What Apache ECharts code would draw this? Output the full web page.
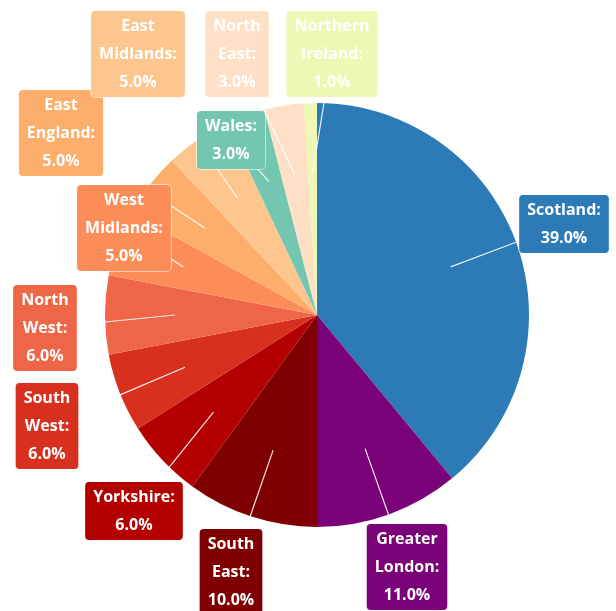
<!DOCTYPE html>
<html><head><meta charset="utf-8">
<script src="https://cdn.jsdelivr.net/npm/echarts@6/dist/echarts.min.js"></script>
<style>html,body{margin:0;padding:0;background:#fff}#c{width:616px;height:611px}</style>
</head><body><div id="c"></div>
<script>
// Data
const regions = ['Scotland','Greater London','South East','Yorkshire','South West','North West','West Midlands','East England','East Midlands','Wales','North East','Northern Ireland'];
const shares = [39, 11, 10, 6, 6, 6, 5, 5, 5, 3, 3, 1];

// Styles / layout
const sliceColors = ['#2c7bb6','#7a0177','#7f0000','#b30000','#d7301f','#ef6548','#fc8d59','#fdae6b','#fdc68f','#73c6b0','#fde0c5','#eef7b4'];
const labelCenters = [[564,224],[407,567],[231,572],[134,511],[47,426],[45,328],[124,228],[61,133],[138,54],[231,140],[237,54],[332,54]];
const CX = 317, CY = 315, R = 212;

const total = shares.reduce((a,b)=>a+b,0);
function midAngle(i){
  let cum = 0;
  for (let k = 0; k < i; k++) cum += shares[k];
  return (cum + shares[i]/2) / total * Math.PI * 2;
}

const labelOpt = {
  show: true,
  position: 'outside',
  overflow: 'none',
  formatter: p => p.name.replace(/ /g,'\n') + ':\n' + p.value.toFixed(1) + '%',
  color: '#ffffff',
  opacity: 1,
  fontFamily: '"Open Sans", sans-serif',
  fontWeight: 'bold',
  fontSize: 16,
  lineHeight: 28,
  align: 'center',
  padding: [1, 8],
  borderRadius: 4,
  borderColor: 'rgba(255,255,255,0.55)',
  borderWidth: 1
};

const chart = echarts.init(document.getElementById('c'), null, {renderer:'canvas'});
chart.setOption({
  animation: false,
  backgroundColor: '#ffffff',
  series: [{
    type: 'pie',
    z: 2,
    center: [CX, CY],
    radius: R,
    startAngle: 90,
    clockwise: true,
    silent: true,
    data: regions.map((n,i)=>({name:n, value:shares[i], itemStyle:{color:sliceColors[i]}})),
    label: {show: false},
    labelLine: {show: false}
  }, {
    type: 'pie',
    z: 3,
    center: [CX, CY],
    radius: R,
    startAngle: 90,
    clockwise: true,
    silent: true,
    avoidLabelOverlap: false,
    data: regions.map((n,i)=>({name:n, value:shares[i], itemStyle:{color:'rgba(0,0,0,0)'}, label:{backgroundColor:sliceColors[i]}})),
    label: labelOpt,
    labelLine: {
      show: true,
      length: 10,
      length2: 0,
      lineStyle: {color: 'rgba(255,255,255,0.9)', width: 1.2, opacity: 1}
    },
    labelLayout: function(params){
      const i = params.dataIndex;
      const a = midAngle(i);
      const inner = [CX + Math.sin(a)*R*0.67, CY - Math.cos(a)*R*0.67];
      const lc = labelCenters[i];
      return {
        x: lc[0], y: lc[1],
        align: 'center', verticalAlign: 'middle',
        labelLinePoints: [inner, [(inner[0]+lc[0])/2,(inner[1]+lc[1])/2], lc]
      };
    }
  }]
});
</script></body></html>
